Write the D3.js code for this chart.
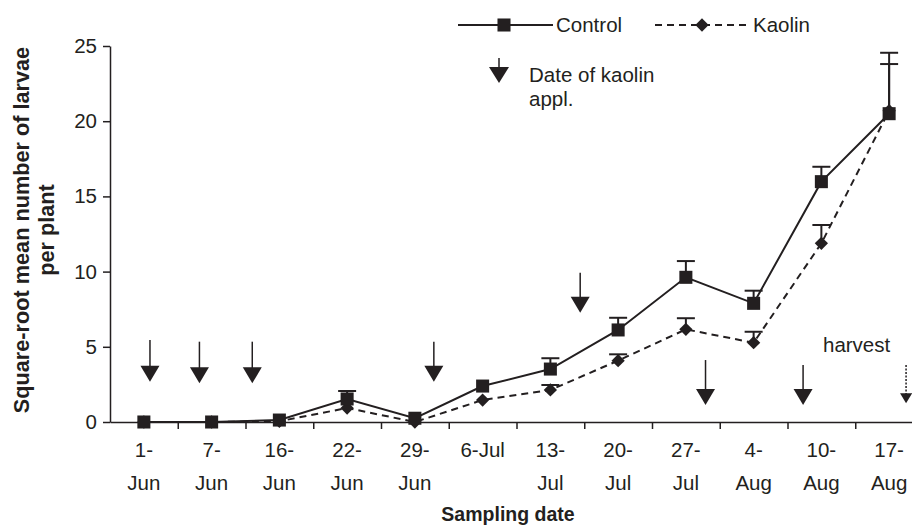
<!DOCTYPE html>
<html>
<head>
<meta charset="utf-8">
<script src="https://cdn.jsdelivr.net/npm/d3@7"></script>
<style>
    body { margin: 0; background: #fff; }
    text { font-family: "Liberation Sans", Arial, sans-serif; fill: #231f20; }
</style>
</head>
<body>
<div id="chart"></div>
<script>
const dates = ["1-Jun", "7-Jun", "16-Jun", "22-Jun", "29-Jun", "6-Jul", "13-Jul", "20-Jul", "27-Jul", "4-Aug", "10-Aug", "17-Aug"];
const tickTop = ["1-", "7-", "16-", "22-", "29-", "6-Jul", "13-", "20-", "27-", "4-", "10-", "17-"];
const tickBottom = ["Jun", "Jun", "Jun", "Jun", "Jun", "", "Jul", "Jul", "Jul", "Aug", "Aug", "Aug"];
const yTicks = [0, 5, 10, 15, 20, 25];

const control = [0, 0, 0.13, 1.53, 0.25, 2.39, 3.52, 6.12, 9.62, 7.89, 15.98, 20.5];
const controlErr = [null, null, null, 2.06, null, null, 4.24, 6.93, 10.7, 8.73, 16.97, 23.8];
const kaolin = [0, 0, 0.05, 0.93, 0, 1.46, 2.13, 4.08, 6.16, 5.27, 11.88, 20.7];
const kaolinErr = [null, null, null, null, null, null, 2.46, 4.5, 6.9, 6.0, 13.1, 24.55];

// kaolin application arrows (position in sampling-date units, shaft top and tip in y units)
const applPos = [0.09, 0.82, 1.60, 4.28, 6.44, 8.29, 9.73];
const applTop = [5.45, 5.34, 5.34, 5.34, 9.93, 4.12, 3.79];
const applTip = [2.68, 2.57, 2.57, 2.68, 7.27, 1.13, 1.13];
const harvestPos = [11.25];
const harvestTop = [3.79];
const harvestTip = [1.24];

const ink = "#231f20";
const W = 912, H = 525;

const svg = d3.select("#chart")
    .append("svg")
    .attr("width", W)
    .attr("height", H);

const x = d3.scaleBand()
    .domain(dates)
    .range([110, 923])
    .padding(0);
const xi = d3.scaleLinear()
    .domain([-0.5, dates.length - 0.5])
    .range([110, 923]);
const y = d3.scaleLinear()
    .domain([0, 25])
    .range([422, 46]);
const xc = d => x(d) + x.bandwidth() / 2;

// Y axis
const yAxis = svg.append("g")
    .attr("transform", "translate(110,0)")
    .call(d3.axisLeft(y).tickValues(yTicks).tickSize(7).tickPadding(6).tickSizeOuter(0));
yAxis.selectAll("text").attr("font-size", "20.5px").attr("font-family", null).attr("fill", ink);
yAxis.selectAll("line, path").attr("stroke", ink).attr("stroke-width", 1.5);

// X axis (ticks between dates)
const xAxis = svg.append("g")
    .attr("transform", `translate(0,${y(0)})`)
    .call(d3.axisBottom(xi).tickValues(d3.range(0.5, dates.length, 1)).tickFormat("").tickSize(7).tickSizeOuter(0));
xAxis.selectAll("line, path").attr("stroke", ink).attr("stroke-width", 1.5);

const labels = svg.append("g").attr("font-size", "20.5px").attr("text-anchor", "middle");
dates.forEach((d, i) => {
    labels.append("text").attr("x", xc(d)).attr("y", 457).text(tickTop[i]);
    labels.append("text").attr("x", xc(d)).attr("y", 490).text(tickBottom[i]);
});

// axis titles
svg.append("text")
    .attr("x", 508)
    .attr("y", 521)
    .attr("text-anchor", "middle")
    .attr("font-size", "19.5px")
    .attr("font-weight", "bold")
    .text("Sampling date");

const yTitle = svg.append("text")
    .attr("transform", "translate(29,230) rotate(-90)")
    .attr("text-anchor", "middle")
    .attr("font-size", "21.7px")
    .attr("font-weight", "bold");
yTitle.append("tspan").attr("x", 0).attr("dy", 0).text("Square-root mean number of larvae");
yTitle.append("tspan").attr("x", 0).attr("dy", 25).text("per plant");

// series lines
const line = d3.line().x((d, i) => xc(dates[i])).y(d => y(d));
svg.append("path")
    .attr("d", line(kaolin))
    .attr("fill", "none")
    .attr("stroke", ink)
    .attr("stroke-width", 2)
    .attr("stroke-dasharray", "7,5");
svg.append("path")
    .attr("d", line(control))
    .attr("fill", "none")
    .attr("stroke", ink)
    .attr("stroke-width", 2);

// error bars (upper only)
function errorBars(vals, errs) {
    const g = svg.append("g").attr("stroke", ink).attr("stroke-width", 2);
    errs.forEach((e, i) => {
        if (e === null) return;
        const cx = xc(dates[i]);
        g.append("line").attr("x1", cx).attr("x2", cx).attr("y1", y(vals[i])).attr("y2", y(e));
        g.append("line").attr("x1", cx - 9).attr("x2", cx + 9).attr("y1", y(e)).attr("y2", y(e));
    });
}
errorBars(kaolin, kaolinErr);
errorBars(control, controlErr);

const square = d3.symbol().type(d3.symbolSquare).size(170);
const diamond = d3.symbol().type(d3.symbolSquare).size(88);

svg.append("g")
    .selectAll("path")
    .data(kaolin)
    .join("path")
    .attr("transform", (d, i) => `translate(${xc(dates[i])},${y(d)}) rotate(45)`)
    .attr("d", diamond)
    .attr("fill", ink);
svg.append("g")
    .selectAll("path")
    .data(control)
    .join("path")
    .attr("transform", (d, i) => `translate(${xc(dates[i])},${y(d)})`)
    .attr("d", square)
    .attr("fill", ink);

// arrows
function arrow(g, px, top, tip, w, h, dotted) {
    g.append("line")
        .attr("x1", px).attr("x2", px)
        .attr("y1", top).attr("y2", tip - h + 1)
        .attr("stroke", ink)
        .attr("stroke-width", 1.5)
        .attr("stroke-dasharray", dotted ? "2,1.5" : null);
    g.append("path")
        .attr("d", `M${px - w / 2},${tip - h}L${px + w / 2},${tip - h}L${px},${tip}Z`)
        .attr("fill", ink);
}
const arrows = svg.append("g");
applPos.forEach((p, i) => arrow(arrows, xi(p), y(applTop[i]), y(applTip[i]), 19, 16, false));
harvestPos.forEach((p, i) => arrow(arrows, xi(p), y(harvestTop[i]), y(harvestTip[i]), 12, 10, true));

svg.append("text")
    .attr("x", xi(10.52))
    .attr("y", y(4.65))
    .attr("text-anchor", "middle")
    .attr("font-size", "20.5px")
    .text("harvest");

// legend
const legend = svg.append("g");
legend.append("line").attr("x1", 458).attr("x2", 553).attr("y1", 25).attr("y2", 25)
    .attr("stroke", ink).attr("stroke-width", 2);
legend.append("path").attr("transform", "translate(504,25)").attr("d", square).attr("fill", ink);
legend.append("text").attr("x", 556).attr("y", 32).attr("font-size", "20.5px").text("Control");

legend.append("line").attr("x1", 655).attr("x2", 750).attr("y1", 25).attr("y2", 25)
    .attr("stroke", ink).attr("stroke-width", 2).attr("stroke-dasharray", "7,5");
legend.append("path").attr("transform", "translate(702,25) rotate(45)").attr("d", diamond).attr("fill", ink);
legend.append("text").attr("x", 753).attr("y", 32).attr("font-size", "20.5px").text("Kaolin");

arrow(legend, 499, 58, 83, 20, 16, false);
legend.append("text").attr("x", 529).attr("y", 82).attr("font-size", "20.5px").text("Date of kaolin");
legend.append("text").attr("x", 529).attr("y", 106).attr("font-size", "20.5px").text("appl.");
</script>
</body>
</html>
